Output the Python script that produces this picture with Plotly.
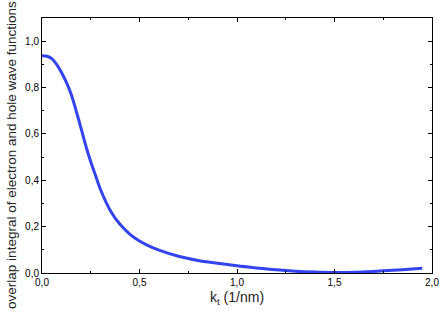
import plotly.graph_objects as go

k_t = [0, 0.025, 0.05, 0.075, 0.1, 0.125, 0.15, 0.175, 0.2, 0.225, 0.25, 0.275, 0.3,
       0.35, 0.4, 0.45, 0.5, 0.55, 0.6, 0.7, 0.8, 0.9, 1.0, 1.1, 1.2, 1.3, 1.4,
       1.5, 1.6, 1.7, 1.8, 1.9, 1.95]
overlap = [0.937, 0.935, 0.925, 0.9, 0.865, 0.822, 0.77, 0.7, 0.625, 0.548, 0.48,
           0.42, 0.36, 0.27, 0.21, 0.168, 0.138, 0.116, 0.099, 0.072, 0.054, 0.042,
           0.031, 0.022, 0.014, 0.008, 0.004, 0.002, 0.003, 0.007, 0.012, 0.017, 0.020]

fig = go.Figure()
fig.add_trace(go.Scatter(x=k_t, y=overlap, mode="lines",
                         line=dict(color="#3344ee", width=3, shape="spline", smoothing=0.8)))

axis_common = dict(showline=True, linecolor="black", linewidth=1, mirror="ticks",
                   ticks="inside", ticklen=4, tickcolor="black", showgrid=False,
                   zeroline=False, tickformat=".1f", automargin=False,
                   tickfont=dict(family="Liberation Sans", size=10, color="black"))

fig.update_layout(
    width=442, height=315,
    margin=dict(l=42, r=10, t=18, b=42),
    plot_bgcolor="white", paper_bgcolor="white",
    separators=", ",
    showlegend=False,
    xaxis=dict(range=[0, 2.0], dtick=0.5,
               minor=dict(ticks="inside", ticklen=2, dtick=0.25, tickcolor="black"),
               **axis_common),
    yaxis=dict(range=[0, 1.1], dtick=0.2,
               minor=dict(ticks="inside", ticklen=2, dtick=0.1, tickcolor="black"),
               **axis_common),
    annotations=[
        dict(text="k<sub>t</sub> (1/nm)", xref="paper", yref="paper", x=0.5, y=-0.098,
             showarrow=False, xanchor="center", yanchor="middle",
             font=dict(family="Liberation Sans", size=14, color="#222")),
        dict(text="overlap integral of electron and hole wave functions", xref="paper",
             yref="paper", x=-0.077, y=0.463, textangle=-90, showarrow=False,
             xanchor="center", yanchor="middle",
             font=dict(family="Liberation Sans", size=13.5, color="#222")),
    ],
)

fig.write_html("out.html", config={"displayModeBar": False},
               post_script="document.body.style.margin='0';")
